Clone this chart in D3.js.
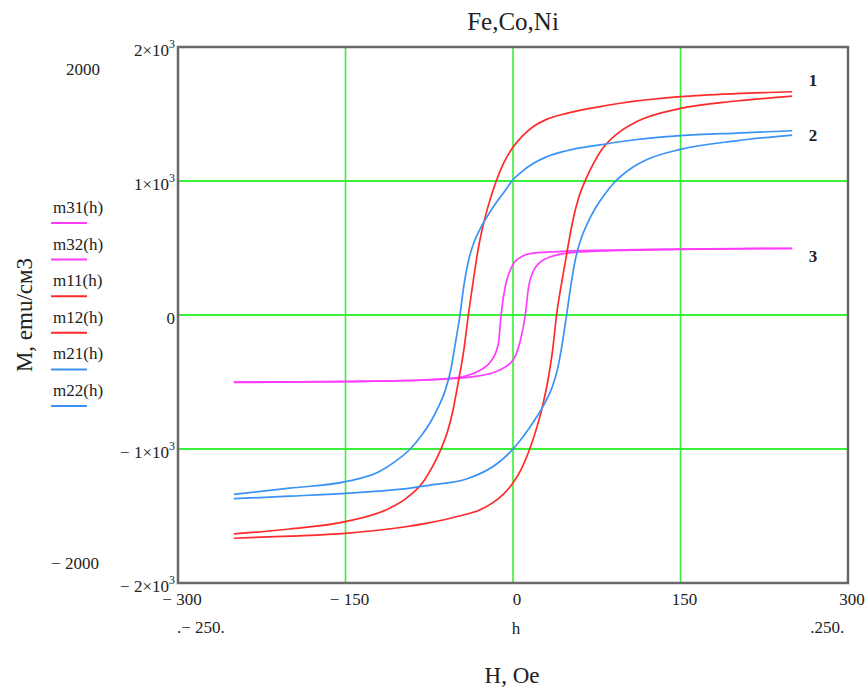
<!DOCTYPE html>
<html>
<head>
<meta charset="utf-8">
<script src="https://cdn.jsdelivr.net/npm/d3@7"></script>
<style>
  body { margin: 0; background: #fff; }
  text { font-family: "Liberation Serif", "Times New Roman", serif; fill: #222; }
</style>
</head>
<body>
<div id="chart"></div>
<script>
// Fe loop (curve 1, red)
var m11H = [-250,-200,-150,-110,-96,-80,-72,-65,-59,-54,-49,-44,-40,-35.5,-31,-27,-22,-15,-8,0,9,18,30,48,78,96,150,200,250];
var m11M = [-1634,-1597,-1542,-1440,-1370,-1240,-1130,-1010,-880,-720,-500,-261,0,261,500,660,820,1000,1140,1252,1340,1405,1460,1505,1555,1580,1629,1652,1666];
var m12H = [-250,-200,-150,-96,-78,-48,-30,-18,-9,0,8,15,22,27,31,35.5,39,44,49,54,59,65,72,80,96,110,150,200,250];
var m12M = [-1666,-1650,-1629,-1580,-1555,-1500,-1455,-1400,-1340,-1254,-1140,-1000,-820,-660,-500,-261,0,261,500,720,880,1010,1130,1240,1370,1440,1542,1597,1634];

// Co loop (curve 2, blue)
var m21H = [-250,-200,-150,-120,-105,-92,-82,-74,-67,-61,-56,-52,-47.5,-44,-40,-35,-29,-22,-14,-6,-1,8,18,30,48,78,96,150,200,250];
var m21M = [-1338,-1292,-1244,-1170,-1090,-1000,-900,-800,-690,-570,-420,-230,0,220,400,540,650,750,850,940,1000,1070,1130,1180,1226,1270,1293,1338,1358,1375];
var m22H = [-250,-200,-150,-100,-74,-41,-12,0,6,14,22,29,35,40,44,48,52,56,61,67,74,82,92,105,120,150,200,250];
var m22M = [-1371,-1352,-1331,-1300,-1269,-1222,-1095,-1000,-940,-850,-750,-650,-540,-400,-220,0,230,420,570,690,800,900,1000,1090,1160,1236,1300,1343];

// Ni loop (curve 3, magenta)
var m31H = [-250,-190,-100,-56,-32,-19,-13,-10.7,-7,-3,3,18,48,100,250];
var m31M = [-500,-498,-490,-473,-423,-336,-211,0,211,323,410,462,476,486,498];
var m32H = [-250,-150,-77,-35,-12,0,6,11,14,18,27,48,78,150,250];
var m32M = [-503,-497,-485,-460,-410,-336,-211,0,211,323,410,462,478,490,496];

var seriesNames = ["m31(h)","m32(h)","m11(h)","m12(h)","m21(h)","m22(h)"];
var seriesColors = ["#ff3cff","#ff3cff","#ff2a2a","#ff2a2a","#3a92f5","#3a92f5"];
var seriesH = [m31H, m32H, m11H, m12H, m21H, m22H];
var seriesM = [m31M, m32M, m11M, m12M, m21M, m22M];

var xTicks = [-300,-150,0,150,300];
var xTickText = ["\u2212 300","\u2212 150","0","150","300"];
var yTicks = [2000,1000,0,-1000,-2000];
var yTickText = ["2\u00d710","1\u00d710","0","\u2212 1\u00d710","\u2212 2\u00d710"];
var yTickExp = ["3","3","","3","3"];
var xGrid = [-150,0,150];
var yGrid = [1000,0,-1000];

// end labels under the x axis and beside the y axis
var xLimits = [-250, 250];
var xLimitText = [".\u2212 250.", ".250."];
var yLimits = [2000, -2000];
var yLimitText = ["2000", "\u2212 2000"];

// curve numbers at the right end of each loop
var curveLabels = ["1","2","3"];
var curveLabelM = [1754, 1343, 440];

var width = 868, height = 688;
var plot = {left: 178, right: 848, top: 47, bottom: 583};

var svg = d3.select("#chart").append("svg").attr("width", width).attr("height", height);

var x = d3.scaleLinear().domain([-300, 300]).range([plot.left, plot.right]);
var y = d3.scaleLinear().domain([-2000, 2000]).range([plot.bottom, plot.top]);

// grid
svg.selectAll(".vgrid").data(xGrid).enter().append("line")
  .attr("x1", function(d){ return x(d) }).attr("x2", function(d){ return x(d) })
  .attr("y1", plot.top).attr("y2", plot.bottom)
  .attr("stroke", "#38f038").attr("stroke-width", 1.6);
svg.selectAll(".hgrid").data(yGrid).enter().append("line")
  .attr("x1", plot.left).attr("x2", plot.right)
  .attr("y1", function(d){ return y(d) }).attr("y2", function(d){ return y(d) })
  .attr("stroke", "#38f038").attr("stroke-width", 2);

// curves
var line = d3.line().curve(d3.curveMonotoneX);
seriesH.forEach(function(hs, i) {
  var pts = hs.map(function(h, j) { return [x(h), y(seriesM[i][j])] });
  svg.append("path").attr("d", line(pts)).attr("fill", "none")
    .attr("stroke", seriesColors[i]).attr("stroke-width", 1.7);
});

// frame
svg.append("rect").attr("x", plot.left).attr("y", plot.top)
  .attr("width", plot.right - plot.left).attr("height", plot.bottom - plot.top)
  .attr("fill", "none").attr("stroke", "#686868").attr("stroke-width", 2.5);

// y tick labels
var yl = svg.selectAll(".ytick").data(yTicks).enter().append("text")
  .attr("x", plot.left - 3).attr("y", function(d){ return y(d) + 9 })
  .attr("text-anchor", "end").style("font-size", "17px");
yl.append("tspan").text(function(d, i){ return yTickText[i] });
yl.append("tspan").attr("dy", -8).style("font-size", "12px").text(function(d, i){ return yTickExp[i] });

svg.selectAll(".ylim").data(yLimits).enter().append("text")
  .attr("x", function(d, i){ return i == 0 ? 83 : 75 })
  .attr("y", function(d){ return y(d) + (d > 0 ? 28 : -14) })
  .attr("text-anchor", "middle").style("font-size", "17px")
  .text(function(d, i){ return yLimitText[i] });

// x tick labels
svg.selectAll(".xtick").data(xTicks).enter().append("text")
  .attr("x", function(d){ return x(d) + 4 }).attr("y", 605)
  .attr("text-anchor", "middle").style("font-size", "17px")
  .text(function(d, i){ return xTickText[i] });

svg.selectAll(".xlim").data(xLimits).enter().append("text")
  .attr("x", function(d){ return x(d) + (d < 0 ? -33 : 35) }).attr("y", 633)
  .attr("text-anchor", "middle").style("font-size", "17px")
  .text(function(d, i){ return xLimitText[i] });

svg.append("text").attr("x", 516).attr("y", 634).attr("text-anchor", "middle")
  .style("font-size", "17px").text("h");

// titles
svg.append("text").attr("x", 513).attr("y", 30).attr("text-anchor", "middle")
  .style("font-size", "25px").text("Fe,Co,Ni");
svg.append("text").attr("x", 512).attr("y", 683).attr("text-anchor", "middle")
  .style("font-size", "23px").text("H, Oe");
svg.append("text").attr("transform", "translate(32,315) rotate(-90)").attr("text-anchor", "middle")
  .style("font-size", "23px").text("M, emu/c\u043c3");

// legend
seriesNames.forEach(function(n, i) {
  var by = 213 + i * 36.6;
  svg.append("text").attr("x", 53).attr("y", by).style("font-size", "17px").text(n);
  svg.append("line").attr("x1", 51).attr("x2", 87).attr("y1", by + 10).attr("y2", by + 10)
    .attr("stroke", seriesColors[i]).attr("stroke-width", 2);
});

// curve numbers
svg.selectAll(".clab").data(curveLabelM).enter().append("text")
  .attr("x", 813).attr("y", function(d){ return y(d) + 6 })
  .attr("text-anchor", "middle").style("font-size", "17px").style("font-weight", "bold")
  .text(function(d, i){ return curveLabels[i] });
</script>
</body>
</html>
